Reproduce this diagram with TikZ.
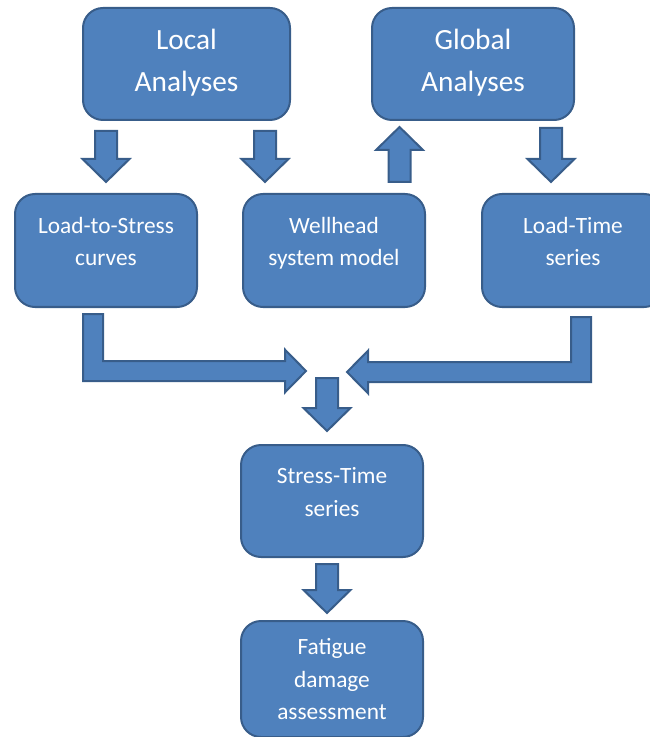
\documentclass[tikz,border=0pt]{standalone}
\usepackage{fontspec}
\setmainfont{Carlito}
\usetikzlibrary{calc,positioning}
\definecolor{boxblue}{HTML}{4F81BD}
\definecolor{boxedge}{HTML}{385D8A}

\tikzset{
  blk/.style={fill=boxblue, draw=boxedge, line width=1.5pt, line join=miter}
}

% straight vertical block arrow: #1 = base centre, #2 = tip (its y only)
\newcommand\vblock[2]{%
  \path[blk] let \p1=#1, \p2=#2, \n1={sign(\y2-\y1)} in
    ({\x1-8.25pt},\y1) -- ({\x1+8.25pt},\y1) -- ({\x1+8.25pt},{\y2-(\n1)*17.25pt})
    -- ({\x1+17.6pt},{\y2-(\n1)*17.25pt}) -- (\x1,\y2) -- ({\x1-17.6pt},{\y2-(\n1)*17.25pt})
    -- ({\x1-8.25pt},{\y2-(\n1)*17.25pt}) -- cycle;}

% bent block arrow: down from #1, then sideways to the tip #2
\newcommand\lblock[2]{%
  \path[blk] let \p1=#1, \p2=#2, \n1={sign(\x2-\x1)} in
    ({\x1-(\n1)*7.5pt},\y1) -- ({\x1+(\n1)*7.5pt},\y1) -- ({\x1+(\n1)*7.5pt},{\y2+7.5pt})
    -- ({\x2-(\n1)*15.75pt},{\y2+7.5pt}) -- ({\x2-(\n1)*15.75pt},{\y2+16pt}) -- (\x2,\y2)
    -- ({\x2-(\n1)*15.75pt},{\y2-16pt}) -- ({\x2-(\n1)*15.75pt},{\y2-7.5pt})
    -- ({\x1-(\n1)*7.5pt},{\y2-7.5pt}) -- cycle;}

\begin{document}
\begin{tikzpicture}[
    x=0.75pt, y=-0.75pt,
    box/.style={rectangle, fill=boxblue, draw=boxedge, line width=1.5pt, rounded corners=15pt,
                text=white, align=center, inner sep=0pt},
    bigbox/.style={box, font=\fontsize{22}{31.5}\selectfont, minimum height=84pt,
                   text depth=6pt},
    smallbox/.style={box, font=\fontsize{17.5}{24.4}\selectfont, minimum width=136.5pt,
                     minimum height=84.75pt, text depth=13.5pt}
]
\useasboundingbox (0,0) rectangle (649,737);

% analyses
\node[bigbox, minimum width=155.25pt] (local) at (186.5,64) {Local\\Analyses};
\node[bigbox, minimum width=151.5pt] (global) at (473,64) {Global\\Analyses};

% middle row
\node[smallbox] (lts) at (106,250.5) {Load-to-Stress\\curves};
\node[smallbox, right=33pt of lts] (well) {Wellhead\\system model};
\node[smallbox, right=41.25pt of well] (ltime) {Load-Time\\series};

% results
\node[smallbox, minimum height=84pt] (stress) at (332,501) {Stress-Time\\series};
\node[smallbox, minimum height=87pt, text depth=0pt, below=46.5pt of stress] (fatigue) {Fatigue\\damage\\assessment};

\coordinate (join) at ($(stress.north)+(-5,-73)$);

% block arrows
\vblock{($(local.south -| lts.north)+(0,10)$)}{($(lts.north)+(0,-11)$)}
\vblock{($(local.south)+(78.5,10)$)}{($(well.north)+(0,-11)$)}
\vblock{($(well.north)+(65.5,-11)$)}{($(global.south)+(0,6)$)}
\vblock{($(global.south)+(78,7)$)}{($(ltime.north)+(0,-11)$)}
\lblock{($(lts.south)+(-13,6)$)}{($(join)+(-21,0)$)}
\lblock{($(ltime.south)+(8,9)$)}{($(join)+(20,1)$)}
\vblock{($(join)+(0,7)$)}{($(stress.north)+(0,-13)$)}
\vblock{($(stress.south)+(-5,6)$)}{($(fatigue.north)+(0,-7)$)}

\end{tikzpicture}
\end{document}
